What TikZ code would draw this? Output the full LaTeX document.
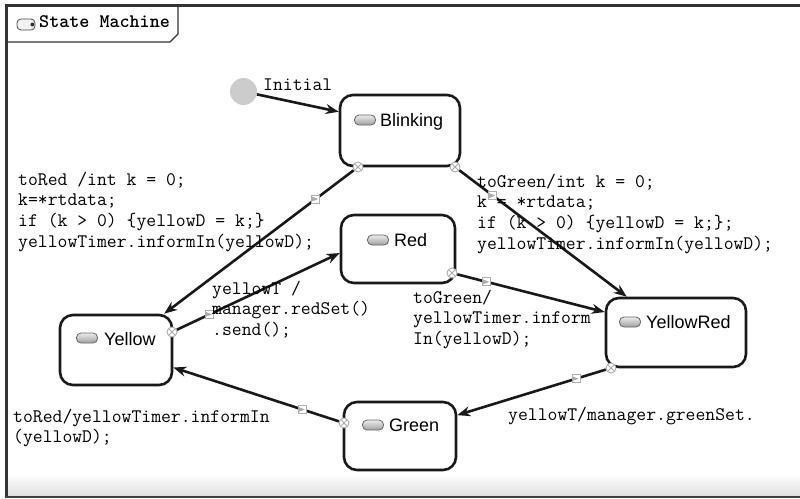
\documentclass[tikz,border=0pt]{standalone}
\usepackage{fontspec}
\setmainfont{Liberation Sans}
\setsansfont{Liberation Sans}
\usetikzlibrary{arrows.meta}
% typewriter text; \tsp is a blank exactly one character wide
\newcommand\codefont{\fontsize{19.15}{20.8}\selectfont\ttfamily}
\newcommand\titlefont{\fontsize{19.15}{20}\selectfont\ttfamily\bfseries}
\newcommand\tsp{\hphantom{0}}

\begin{document}
\begin{tikzpicture}[x=1pt,y=-1pt,
  framepen/.style={line width=3pt, draw=black!80},
  tabpen/.style={line width=1.2pt, draw=black!80},
  stbox/.style={draw=black!90, line width=2.6pt, rounded corners=13pt, fill=white, inner sep=0pt},
  pill/.style={draw=black!60, line width=0.8pt, rounded corners=4.5pt, top color=gray!15, bottom color=gray!75,
    minimum width=21pt, minimum height=10pt, inner sep=0pt},
  stname/.style={font=\fontsize{18}{20}\selectfont\sffamily, anchor=base west, inner sep=0pt},
  code/.style={font=\codefont, anchor=base west, inner sep=0pt},
  trans/.style={line width=2.6pt, draw=black!90, -{Stealth[length=13pt,width=10pt]}},
  srcmark/.style={circle, draw=gray!65, fill=white, line width=0.9pt, minimum size=10pt, inner sep=0pt,
    path picture={\draw[gray!65, line width=0.9pt]
      (path picture bounding box.north west) -- (path picture bounding box.south east)
      (path picture bounding box.north east) -- (path picture bounding box.south west);}},
  midmark/.style={rectangle, draw=gray!65, fill=white, line width=0.9pt, minimum size=8pt, inner sep=0pt,
    path picture={\draw[gray!65, line width=0.8pt]
      ([xshift=1.5pt]path picture bounding box.west) -- ([xshift=-1.5pt]path picture bounding box.east);}},
]
\useasboundingbox (0,0) rectangle (800,498);

% diagram frame
\shade[top color=white, bottom color=black!12] (8,474) rectangle (800,495);
\draw[framepen] (5,5.5) -- (800,5.5);
\draw[framepen] (6.5,4) -- (6.5,498);
\draw[line width=2.5pt, draw=black!75] (5,496.8) -- (800,496.8);

% title tab
\draw[tabpen] (7,42) -- (170,42) -- (178,34) -- (178,5);
\node[draw=black!70, fill=gray!10, line width=0.8pt, rounded corners=4pt, minimum width=18pt,
  minimum height=11pt, inner sep=0pt] (titleIcon) at (26,24.5) {};
\node[circle, fill=black!80, minimum size=4pt, inner sep=0pt] (titleDot) at ([xshift=-3pt]titleIcon.east) {};
\node[font=\titlefont, anchor=base west, inner sep=0pt] (title) at (39,27) {State\tsp Machine};

% states
\node[stbox, minimum width=120pt, minimum height=71pt] (blink)  at (400,130.5) {};
\node[stbox, minimum width=114pt, minimum height=68pt] (red)    at (398,249) {};
\node[stbox, minimum width=112pt, minimum height=70pt] (yellow) at (116,350) {};
\node[stbox, minimum width=140pt, minimum height=69pt] (yred)   at (676,332.5) {};
\node[stbox, minimum width=112pt, minimum height=68pt] (green)  at (400,436) {};

\node[pill] (blinkIcon)  at (365,120) {};  \node[stname] (blinkName)  at (380,126) {Blinking};
\node[pill] (redIcon)    at (378,240) {};  \node[stname] (redName)    at (394,246) {Red};
\node[pill] (yellowIcon) at (87,338)  {};  \node[stname] (yellowName) at (104,345) {Yellow};
\node[pill] (yredIcon)   at (630,322) {};  \node[stname] (yredName)   at (646,328) {YellowRed};
\node[pill] (greenIcon)  at (373,425) {};  \node[stname] (greenName)  at (389,431) {Green};

% initial pseudo state
\node[circle, fill=gray!40, minimum size=27pt, inner sep=0pt] (init) at (243.5,91.5) {};
\node[code] (initLbl) at (263,90) {Initial};

% transition source ports
\node[srcmark] (p1) at (358,167) {};
\node[srcmark] (p2) at (455,167) {};
\node[srcmark] (p3) at (172,332) {};
\node[srcmark] (p4) at (452,273) {};
\node[srcmark] (p5) at (611,368) {};
\node[srcmark] (p6) at (344,423) {};

% transitions
\draw[trans] (init) -- (blink.163.7);
\draw[trans] (p1) -- node[midmark, pos=0.2] (q1) {} (yellow.37.5);
\draw[trans] (p2) -- node[midmark, pos=0.2] (q2) {} (yred.144.5);
\draw[trans] (p3) -- node[midmark, pos=0.2] (q3) {} (red.184);
\draw[trans] (p4) -- node[midmark, pos=0.2] (q4) {} (yred.164.8);
\draw[trans] (p5) -- node[midmark, pos=0.2] (q5) {} (green.20.6);
\draw[trans] (p6) -- node[midmark, pos=0.22] (q6) {} (yellow.-17.8);

% transition labels
\node[code, text width=330pt] (lblToRed) at (18,185)
  {toRed\tsp/int\tsp k\tsp=\tsp 0;\\
   k=*rtdata;\\
   if\tsp(k\tsp>\tsp 0)\tsp\{yellowD\tsp=\tsp k;\}\\
   yellowTimer.informIn(yellowD);};
\node[code, text width=320pt] (lblToGreen) at (477,187)
  {toGreen/int\tsp k\tsp=\tsp 0;\\
   k\tsp=\tsp*rtdata;\\
   if\tsp(k\tsp>\tsp 0)\tsp\{yellowD\tsp=\tsp k;\};\\
   yellowTimer.informIn(yellowD);};
\node[code, text width=200pt] (lblRedSet) at (212,294)
  {yellowT\tsp/\\manager.redSet()\\.send();};
\node[code, text width=200pt] (lblInform) at (413,303)
  {toGreen/\\yellowTimer.inform\\In(yellowD);};
\node[code, text width=300pt] (lblYellow) at (13,422)
  {toRed/yellowTimer.informIn\\(yellowD);};
\node[code] (lblGreenSet) at (508,420) {yellowT/manager.greenSet.};
\end{tikzpicture}
\end{document}
